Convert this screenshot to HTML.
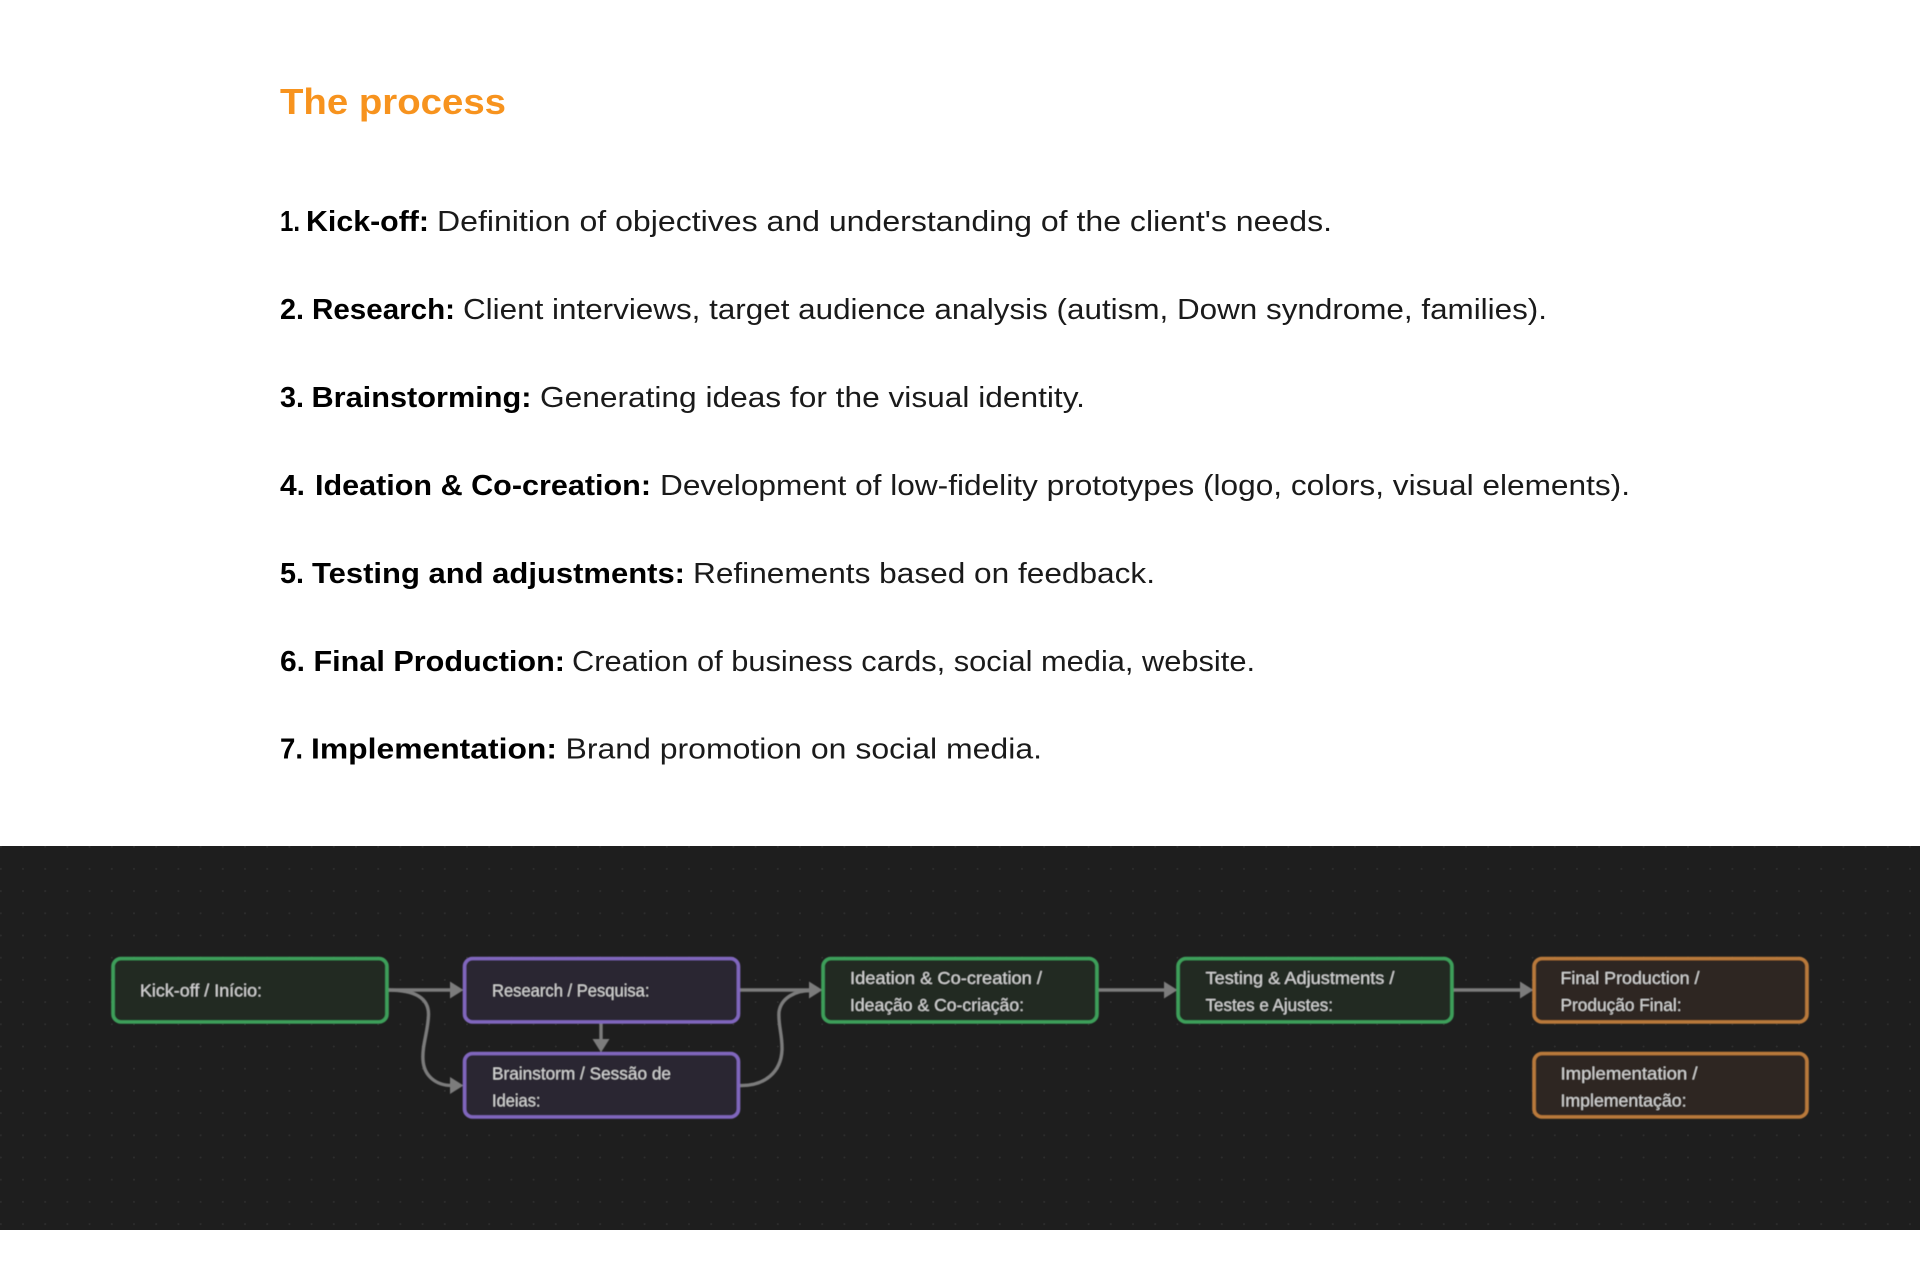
<!DOCTYPE html>
<html lang="en">
<head>
<meta charset="utf-8">
<title>The process</title>
<style>
html,body{margin:0;padding:0;background:#fff;width:1920px;height:1280px;overflow:hidden}
svg{display:block}
.t{font-family:"Liberation Sans",sans-serif}
.r{font-size:29px;fill:#1a1a1a}
.b{font-size:29px;font-weight:700;fill:#000}
.n{font-size:17.5px;fill:#d4d4d4}
.e{fill:none;stroke:#7c7c7c;stroke-width:3.4}
.a{fill:#7c7c7c}
</style>
</head>
<body>
<svg width="1920" height="1280" viewBox="0 0 1920 1280" xmlns="http://www.w3.org/2000/svg">
<defs>
<pattern id="dots" x="0.8" y="846.7" width="22.2" height="22.2" patternUnits="userSpaceOnUse">
<circle cx="0" cy="0" r="1" fill="#2e2e2e"/><circle cx="22.2" cy="0" r="1" fill="#2e2e2e"/><circle cx="0" cy="22.2" r="1" fill="#2e2e2e"/><circle cx="22.2" cy="22.2" r="1" fill="#2e2e2e"/>
</pattern>
<filter id="soft" filterUnits="userSpaceOnUse" x="0" y="846" width="1920" height="384"><feGaussianBlur stdDeviation="0.4"/></filter>
</defs>
<rect width="1920" height="1280" fill="#fff"/>

<text class="t" x="280" y="114" font-size="36.5" font-weight="700" fill="#F7931E" textLength="226" lengthAdjust="spacingAndGlyphs">The process</text>

<g class="t">
<text class="b" x="280" y="231" textLength="20" lengthAdjust="spacingAndGlyphs">1.</text>
<text class="b" x="306" y="231" textLength="123" lengthAdjust="spacingAndGlyphs">Kick-off:</text>
<text class="r" x="437" y="231" textLength="895" lengthAdjust="spacingAndGlyphs">Definition of objectives and understanding of the client's needs.</text>
<text class="b" x="280" y="319" textLength="24" lengthAdjust="spacingAndGlyphs">2.</text>
<text class="b" x="312" y="319" textLength="143" lengthAdjust="spacingAndGlyphs">Research:</text>
<text class="r" x="463" y="319" textLength="1084" lengthAdjust="spacingAndGlyphs">Client interviews, target audience analysis (autism, Down syndrome, families).</text>
<text class="b" x="280" y="407" textLength="24" lengthAdjust="spacingAndGlyphs">3.</text>
<text class="b" x="311.5" y="407" textLength="220" lengthAdjust="spacingAndGlyphs">Brainstorming:</text>
<text class="r" x="540" y="407" textLength="545" lengthAdjust="spacingAndGlyphs">Generating ideas for the visual identity.</text>
<text class="b" x="280" y="495" textLength="25" lengthAdjust="spacingAndGlyphs">4.</text>
<text class="b" x="315" y="495" textLength="336" lengthAdjust="spacingAndGlyphs">Ideation &amp; Co-creation:</text>
<text class="r" x="660" y="495" textLength="970" lengthAdjust="spacingAndGlyphs">Development of low-fidelity prototypes (logo, colors, visual elements).</text>
<text class="b" x="280" y="583" textLength="24" lengthAdjust="spacingAndGlyphs">5.</text>
<text class="b" x="312" y="583" textLength="373" lengthAdjust="spacingAndGlyphs">Testing and adjustments:</text>
<text class="r" x="693" y="583" textLength="462" lengthAdjust="spacingAndGlyphs">Refinements based on feedback.</text>
<text class="b" x="280" y="670.8" textLength="25" lengthAdjust="spacingAndGlyphs">6.</text>
<text class="b" x="313.5" y="670.8" textLength="251.5" lengthAdjust="spacingAndGlyphs">Final Production:</text>
<text class="r" x="572" y="670.8" textLength="683" lengthAdjust="spacingAndGlyphs">Creation of business cards, social media, website.</text>
<text class="b" x="280" y="758.7" textLength="23" lengthAdjust="spacingAndGlyphs">7.</text>
<text class="b" x="311" y="758.7" textLength="246" lengthAdjust="spacingAndGlyphs">Implementation:</text>
<text class="r" x="565.5" y="758.7" textLength="476.5" lengthAdjust="spacingAndGlyphs">Brand promotion on social media.</text>
</g>

<rect x="0" y="846" width="1920" height="384" fill="#1e1e1e"/>
<rect x="0" y="846" width="1920" height="384" fill="url(#dots)"/>

<g filter="url(#soft)">
<!-- edges -->
<path class="e" d="M388 990H452"/>
<path class="e" d="M388 990C415 990 429 998 428.5 1015C428 1032 422 1045 423 1060C424 1076 436 1085.5 452 1085.5"/>
<path class="e" d="M601 1023V1041"/>
<path class="e" d="M740 990H811"/>
<path class="e" d="M740 1085.5C765 1086 781 1072 782 1050C782.5 1035 778 1025 779 1012C781 998 795 990.5 811 990.5"/>
<path class="e" d="M1098 990H1166"/>
<path class="e" d="M1453 990H1522"/>
<polygon class="a" points="450,981.5 463.5,990 450,998.5"/>
<polygon class="a" points="450,1077 463.5,1085.5 450,1094"/>
<polygon class="a" points="592.5,1039 609.5,1039 601,1052.5"/>
<polygon class="a" points="809,981.5 822.5,990 809,998.5"/>
<polygon class="a" points="1164,981.5 1177.5,990 1164,998.5"/>
<polygon class="a" points="1520,981.5 1533.5,990 1520,998.5"/>

<!-- nodes -->
<rect x="113" y="958.5" width="274" height="63.5" rx="8" fill="#222b24" stroke="#3d9f5a" stroke-width="3.6"/>
<rect x="464.5" y="958.5" width="274" height="63.5" rx="8" fill="#292632" stroke="#8066bd" stroke-width="3.6"/>
<rect x="464.5" y="1053.5" width="274" height="63.5" rx="8" fill="#292632" stroke="#8066bd" stroke-width="3.6"/>
<rect x="823" y="958.5" width="274" height="63.5" rx="8" fill="#222b24" stroke="#3d9f5a" stroke-width="3.6"/>
<rect x="1178" y="958.5" width="274" height="63.5" rx="8" fill="#222b24" stroke="#3d9f5a" stroke-width="3.6"/>
<rect x="1534" y="958.5" width="273" height="63.5" rx="8" fill="#2e2822" stroke="#b9793b" stroke-width="3.6"/>
<rect x="1534" y="1053.5" width="273" height="63.5" rx="8" fill="#2e2822" stroke="#b9793b" stroke-width="3.6"/>

<!-- labels -->
<g class="t">
<text class="n" x="140" y="996.5" textLength="122" lengthAdjust="spacingAndGlyphs">Kick-off / Início:</text>
<text class="n" x="492" y="996.5" textLength="157.5" lengthAdjust="spacingAndGlyphs">Research / Pesquisa:</text>
<text class="n" x="492" y="1079.5" textLength="179" lengthAdjust="spacingAndGlyphs">Brainstorm / Sessão de</text>
<text class="n" x="492" y="1106.5" textLength="48.5" lengthAdjust="spacingAndGlyphs">Ideias:</text>
<text class="n" x="850" y="984" textLength="192" lengthAdjust="spacingAndGlyphs">Ideation &amp; Co-creation /</text>
<text class="n" x="850" y="1011" textLength="174" lengthAdjust="spacingAndGlyphs">Ideação &amp; Co-criação:</text>
<text class="n" x="1205.5" y="984" textLength="189" lengthAdjust="spacingAndGlyphs">Testing &amp; Adjustments /</text>
<text class="n" x="1205.5" y="1011" textLength="127.5" lengthAdjust="spacingAndGlyphs">Testes e Ajustes:</text>
<text class="n" x="1560.5" y="984" textLength="139" lengthAdjust="spacingAndGlyphs">Final Production /</text>
<text class="n" x="1560.5" y="1011" textLength="121" lengthAdjust="spacingAndGlyphs">Produção Final:</text>
<text class="n" x="1560.5" y="1079.5" textLength="137" lengthAdjust="spacingAndGlyphs">Implementation /</text>
<text class="n" x="1560.5" y="1106.5" textLength="126" lengthAdjust="spacingAndGlyphs">Implementação:</text>
</g>
</g>
</svg>
</body>
</html>
